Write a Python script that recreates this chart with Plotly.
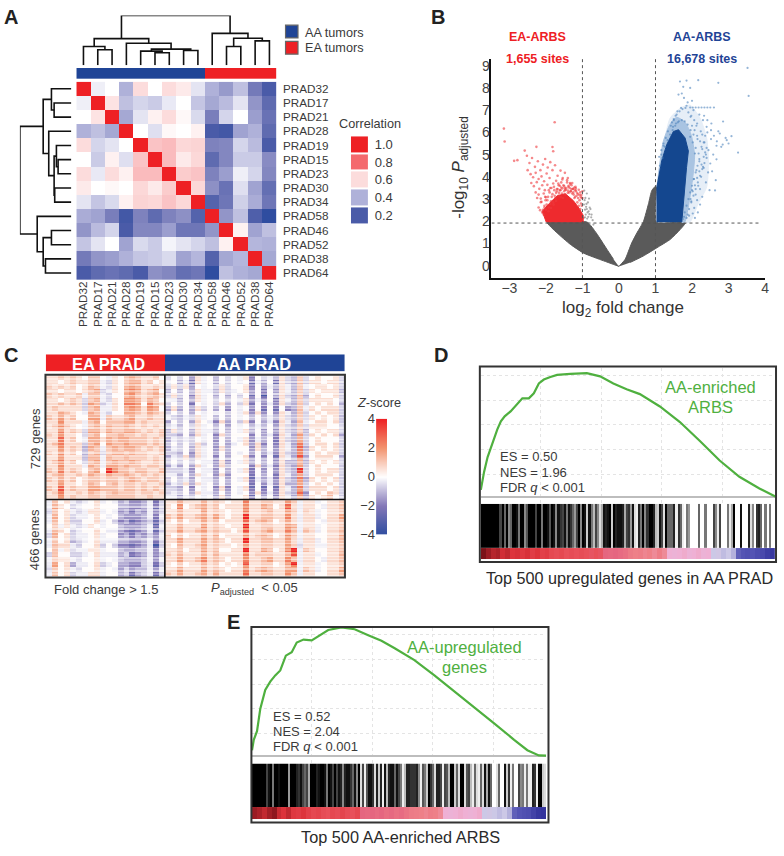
"""Five panel figure: correlation heatmap, volcano, z-score heatmap, two GSEA plots."""
import plotly.graph_objects as go

W, H = 784, 856
FONT = "Liberation Sans, Arial, sans-serif"
TEXT = "#3a3a3a"
RED = "#ee2024"
NAVY = "#1f4496"

# --- panel A
SAMPLES = ["PRAD32", "PRAD17", "PRAD21", "PRAD28", "PRAD19", "PRAD15", "PRAD23",
           "PRAD30", "PRAD34", "PRAD58", "PRAD46", "PRAD52", "PRAD38", "PRAD64"]
CORR = [
    [1.00, .52, .55, .40, .60, .55, .60, .58, .50, .40, .35, .43, .28, .20],
    [.52, 1.00, .59, .43, .47, .45, .51, .55, .44, .38, .42, .50, .34, .24],
    [.55, .59, 1.00, .38, .50, .57, .60, .56, .48, .29, .47, .55, .36, .26],
    [.40, .43, .38, 1.00, .55, .49, .56, .55, .57, .20, .19, .37, .40, .24],
    [.60, .47, .50, .55, 1.00, .66, .68, .61, .62, .30, .31, .47, .42, .20],
    [.55, .45, .57, .49, .66, 1.00, .68, .58, .61, .24, .31, .45, .45, .32],
    [.60, .51, .60, .57, .68, .68, 1.00, .64, .66, .30, .36, .52, .47, .31],
    [.58, .55, .56, .55, .61, .58, .64, 1.00, .61, .33, .26, .49, .37, .25],
    [.50, .44, .48, .57, .62, .61, .66, .61, 1.00, .22, .27, .46, .39, .27],
    [.39, .37, .29, .19, .30, .24, .30, .33, .22, 1.00, .34, .43, .21, .16],
    [.34, .42, .47, .20, .31, .31, .36, .27, .27, .34, 1.00, .57, .37, .43],
    [.44, .50, .55, .37, .48, .45, .53, .50, .47, .43, .57, 1.00, .41, .40],
    [.28, .34, .36, .40, .44, .45, .48, .37, .41, .22, .38, .41, 1.00, .38],
    [.20, .24, .26, .24, .20, .33, .31, .25, .27, .16, .43, .40, .38, 1.00],
]
CORR_STOPS = [(.16, "#2f4da0"), (.2, "#4a5ba8"), (.3, "#7e82bd"), (.4, "#afb1d9"),
              (.5, "#e4e4f2"), (.55, "#ffffff"), (.6, "#fcdcdc"), (.7, "#f9b3b5"),
              (.8, "#f4696d"), (1.0, RED)]
CORR_LEVELS = ["0.2", "0.4", "0.6", "0.8", "1.0"]
GROUP_A = [0, 0, 0, 0, 0, 0, 0, 0, 0, 1, 1, 1, 1, 1]
# merges over leaves 0-13, new nodes are numbered from 14
MERGES = [(1, 2), (0, 14), (5, 6), (4, 16), (7, 8), (17, 18), (3, 19), (15, 20),
          (10, 11), (12, 13), (22, 23), (9, 24), (21, 25)]
TOP_HEIGHTS = [15.7, 19, 12.7, 14.3, 15, 16.3, 22.3, 27, 19, 24.7, 27.3, 32.3, 50.3]
LEFT_HEIGHTS = [17.3, 20, 13.3, 15, 16.7, 17.3, 22.7, 28.3, 20, 26, 28.3, 34.3, 51.7]

# --- panel B, outlines of the dense clouds then single visible dots
GRAY_LEFT_X = [0, -.42, -.96, -1.33, -1.69, -1.97, -.87, -.62, -.33, -.15]
GRAY_LEFT_Y = [-.03, .22, .56, .96, 1.47, 1.96, 1.96, 1.47, .74, .29]
GRAY_RIGHT_X = [0, .17, .35, .49, .67, .81, .9, 1.02, 1.02, 1.83, 1.67, 1.4, 1.04, .67, .31]
GRAY_RIGHT_Y = [-.03, .29, 1.03, 1.47, 1.99, 2.8, 3.39, 3.6, 1.96, 1.96, 1.62, 1.18, .81, .44, .15]
RED_CORE_X = [-1.99, -2.1, -1.91, -1.69, -1.47, -1.25, -1.09, -.98, -.98]
RED_CORE_Y = [1.96, 2.45, 2.8, 3.15, 3.24, 2.93, 2.58, 2.27, 1.96]
BLUE_CORE_X = [1.04, 1.04, 1.17, 1.31, 1.49, 1.63, 1.81, 1.9, 1.85, 1.81, 1.76, 1.72]
BLUE_CORE_Y = [1.96, 3.54, 4.72, 5.46, 6.04, 6.12, 5.75, 5.16, 4.42, 3.54, 2.65, 1.96]
BLUE_MID_X = [1.72, 1.8, 1.93, 2.02, 2.07, 1.98, 1.81, 1.58, 1.4, 1.21, 1.04]
BLUE_MID_Y = [1.96, 1.96, 2.95, 3.95, 4.98, 5.87, 6.46, 6.68, 6.37, 5.57, 3.54]
BLUE_HALO_X = [1.72, 1.94, 2.17, 2.4, 2.45, 2.4, 2.22, 1.94, 1.67, 1.4, 1.26, 1.04]
BLUE_HALO_Y = [1.96, 1.96, 2.8, 3.54, 4.72, 5.75, 6.64, 7.23, 7.08, 6.64, 5.75, 3.54]
RED_X = [-3.15, -3.13, -1.76, -2.26, -1.82, -2.58, -1.80, -2.87, -2.78, -2.52, -2.45, -2.38,
         -2.30, -2.22, -2.15, -2.08, -2.02, -1.95, -1.88, -2.50, -2.42, -2.35, -2.28, -2.20,
         -2.12, -2.05, -1.98, -1.90, -1.82, -1.75, -1.68, -1.60, -1.55, -1.48, -2.40, -2.33,
         -2.25, -2.18, -2.10, -2.03, -1.96, -1.88, -1.80, -1.72, -1.65, -1.58, -1.50, -1.42,
         -1.35, -1.28, -1.20, -2.28, -2.20, -2.14, -2.06, -2.00, -1.92, -1.85, -1.77, -1.70,
         -1.62, -1.55, -1.47, -1.40, -1.32, -1.25, -1.18, -1.12, -1.05, -1.00, -1.38, -1.30,
         -1.22, -1.15, -1.08, -1.02, -2.12, -2.04, -1.40, -1.33, -1.26, -1.19, -1.10, -1.03,
         -2.20, -2.14, -2.08, -2.02, -1.96, -1.90, -1.84, -1.78, -1.72, -1.66,
         -1.60, -1.54, -1.48, -1.42, -1.36, -1.30, -1.24, -1.18, -1.12, -1.06,
         -2.10, -2.04, -1.98, -1.92, -1.86, -1.80, -1.74, -1.68, -1.62, -1.56,
         -1.50, -1.44, -1.38, -1.32, -1.26, -1.20, -1.14, -1.08, -1.02, -2.24,
         -2.16, -2.01, -1.94, -1.88, -1.82, -1.76, -1.70, -1.64, -1.58, -1.52,
         -1.46, -1.40, -1.34, -1.28, -1.22, -1.16, -1.10, -1.04, -1.00, -1.06,
         -2.06, -2.00, -1.93, -1.86, -1.79, -1.72, -1.65, -1.59, -1.53, -1.47]
RED_Y = [6.17, 5.59, 6.46, 5.35, 5.34, 5.18, 5.15, 4.72, 4.75, 4.95, 4.62, 4.85,
         4.45, 4.70, 4.30, 4.55, 4.80, 4.42, 4.66, 4.30, 4.12, 3.98, 4.18, 3.90,
         4.02, 3.80, 4.15, 3.95, 4.30, 4.52, 4.05, 4.28, 3.88, 4.18, 3.72, 3.58,
         3.76, 3.46, 3.62, 3.40, 3.64, 3.50, 3.70, 3.82, 3.62, 3.75, 3.58, 3.85,
         3.50, 3.72, 3.40, 3.30, 3.20, 3.02, 3.25, 3.08, 3.40, 3.50, 3.40, 3.45,
         3.40, 3.48, 3.42, 3.38, 3.36, 3.30, 3.36, 3.22, 3.10, 3.35, 3.60, 3.45,
         3.52, 3.28, 3.18, 3.05, 2.88, 2.70, 3.95, 3.68, 3.46, 3.55, 3.42, 3.18,
         2.62, 2.86, 2.52, 3.10, 2.95, 3.30, 3.10, 3.55, 3.28, 3.70,
         3.40, 3.95, 3.50, 3.75, 3.30, 3.62, 3.20, 3.48, 3.05, 3.30,
         2.40, 2.62, 2.75, 2.62, 2.90, 2.85, 3.05, 3.45, 3.60, 3.25,
         3.35, 3.50, 3.55, 3.35, 3.45, 3.10, 2.85, 2.95, 2.70, 3.05,
         2.50, 2.95, 3.10, 2.78, 3.22, 3.15, 3.35, 3.28, 3.52, 3.62,
         3.42, 3.28, 3.72, 3.25, 3.05, 3.15, 2.70, 2.80, 3.05, 2.55,
         2.30, 2.52, 2.45, 2.60, 2.75, 2.92, 3.15, 3.08, 3.05, 3.20]
BLUE_X = [3.52, 3.55, 2.72, 2.17, 1.85, 1.67, 1.76, 1.95, 1.72, 1.63, 2.00, 1.85, 1.95, 2.02,
          2.10, 2.18, 2.26, 2.34, 2.42, 2.50, 2.60, 3.26, 3.08, 2.72, 2.85, 2.67, 2.53, 2.40,
          2.63, 2.67, 2.20, 2.30, 2.42, 2.52, 2.32, 2.45, 2.58, 2.12, 2.24, 2.36, 2.50, 2.15,
          2.28, 2.40, 2.08, 2.20, 2.32, 2.12, 2.25, 2.05, 2.17, 2.00, 2.10, 1.98, 2.06, 2.80,
          2.95, 1.88, 1.78, 1.70, 1.60, 1.55, 1.50, 1.45, 2.55, 2.65, 2.48, 2.38, 2.28, 2.22,
          2.16, 2.42, 2.33, 1.92, 2.02, 2.08, 2.14, 2.22, 2.30, 1.96, 2.04, 1.10, 1.16, 1.22,
          1.75, 1.80, 1.85, 1.90, 1.95, 2.00, 2.05, 2.10, 2.15, 2.20,
          1.85, 1.92, 1.98, 2.04, 2.10, 2.16, 2.22, 2.28, 2.34, 2.38,
          1.78, 1.88, 1.96, 2.02, 2.08, 2.14, 2.20, 2.26, 2.32, 2.40,
          1.95, 2.02, 2.10, 2.18, 2.26, 2.34, 2.00, 2.07, 2.14, 2.22,
          1.50, 1.58, 1.66, 1.74, 1.82, 1.90, 1.98, 2.06, 2.14, 1.42,
          1.34, 1.28, 1.22, 1.16, 1.48, 1.56, 1.64, 1.72, 1.80, 1.88,
          1.96, 2.04, 1.12, 1.19, 1.26, 1.33, 1.40, 1.47, 1.54, 1.61,
          2.28, 2.36, 2.44, 2.52, 2.60, 2.68, 2.76, 2.84, 2.92, 3.00]
BLUE_Y = [8.90, 7.64, 8.23, 8.35, 8.33, 8.29, 8.05, 8.00, 7.75, 7.70, 7.42, 7.20, 7.12, 7.12,
          7.12, 7.12, 7.12, 7.12, 7.12, 7.12, 7.12, 5.09, 5.83, 6.05, 6.49, 4.79, 6.40, 6.25,
          3.39, 5.40, 6.80, 6.55, 6.00, 5.70, 5.55, 5.20, 5.00, 6.30, 6.05, 5.85, 4.60, 5.70,
          5.25, 4.85, 5.05, 4.70, 4.40, 4.30, 4.00, 3.90, 3.60, 3.40, 3.20, 2.90, 2.60, 5.35,
          5.65, 7.35, 7.55, 7.10, 6.95, 6.75, 6.60, 6.45, 4.25, 3.85, 3.40, 3.75, 3.10, 2.75,
          2.40, 6.55, 6.75, 2.25, 2.35, 2.15, 2.95, 3.45, 4.45, 6.70, 7.00, 4.90, 5.20, 5.50,
          2.10, 2.40, 2.70, 3.00, 3.30, 3.60, 3.90, 4.20, 4.50, 4.80,
          2.15, 2.55, 2.85, 3.15, 3.45, 3.75, 4.05, 4.35, 4.62, 5.00,
          2.20, 2.30, 3.00, 3.35, 3.62, 3.95, 4.25, 4.55, 4.90, 5.30,
          5.80, 5.55, 5.30, 5.05, 5.35, 5.55, 6.30, 6.10, 5.85, 5.60,
          6.55, 6.80, 6.95, 7.05, 7.10, 6.90, 6.75, 6.55, 6.40, 6.30,
          6.05, 5.75, 5.40, 5.00, 6.25, 6.40, 6.50, 6.55, 6.50, 6.35,
          6.10, 5.90, 4.50, 4.85, 5.35, 5.65, 5.90, 6.10, 6.30, 6.45,
          5.90, 5.10, 4.20, 6.10, 5.85, 5.60, 5.95, 5.45, 5.75, 5.50]
GRAY_X = [-.95, -.92, -.88, -.85, -.82, -.90, -.78, -.94, -.86, -.75, -.96, -.93, -.89, -.84, -.80,
          -.91, -.87, -.83, -.97, -.72, -.76, -.70, -.81, -.88, -.93]
GRAY_Y = [3.38, 3.05, 3.25, 2.85, 3.02, 2.65, 2.55, 2.95, 2.40, 2.30, 2.75, 2.52, 2.78, 2.20, 2.62,
          2.30, 2.12, 2.45, 2.15, 2.05, 2.18, 1.85, 2.32, 2.55, 2.18]
X_TICKS = [-3, -2, -1, 0, 1, 2, 3, 4]
Y_TICKS = [0, 1, 2, 3, 4, 5, 6, 7, 8, 9]
LOGFC_CUT = [-1, 1]
PADJ_CUT = 1.92

# --- panel C, one hex digit per cell, 8 is about z = 0
Z_LEVELS = [-3.6, -2.8, -2.2, -1.6, -1.2, -.85, -.5, -.2, .05, .45, .8, 1.15, 1.5, 2, 2.7, 3.5]
TOP_EA = [
    "99A9A98AA8798ABA99A8", "9989A99AA7698ABB9A89", "A9A9A89BA7698BCB99A9", "9989989AB6798BCB9AB8",
    "A9A99A7AA7688BCA9AB9", "9989A96AB7698CCB9BA8", "99A9A96BA6798CCB8CA9", "9A99996AB7798BCB9CB8",
    "99BA987BA7688BBA9BA9", "A9B9A88BB7A99AB99A99", "99C9997AB8AAABB9A999", "9ACA987AB9BAABA9A9A9",
    "99C9A96BB9BAABBA9A9A", "A9C9986AB8AABAA9A99A", "99D9A87BB9BABBAAA9A9", "9AC9996AB8BAABAAA9A9",
    "99C9A95BA7ABABBA9A9A", "A9C9A85AB6ABBABAA99A", "99C9995BB7BAABAAA9A9", "9AC9A86AB7ABAABA99A9",
    "99C9997BA7BBABAA9AA9", "A9C9A98AB8ECAA9AA99A", "9AB99A9BA9BAABA9A9A9", "A9B9A89AA9AA9ABA9AA9",
    "99C9989BA8AB9AA9A99A", "A9D9A99BBAAA9AA9A9A9", "9AD99A9BA9ABAAA9AA9A", "99C9A99AA9AAAAA99A99",
]
TOP_AA = [
    "6868497858687938675965A6898896", "7857397858687837583965A6998996", "6969487869688938475975A7899896",
    "5858597759678948384975A6989995", "6968497858586838285965A5898896", "7758597868687947483975A6999986",
    "6868387869586938474965A6898985", "5958596858487848383845A7989996", "6868587878687949484975A6898996",
    "7657697858587858575965A6989895", "5868598749586948574975A7899896", "6758697858487857584965A6999886",
    "5968597758587958484965A5898996", "6658597849688848574975B6989895", "5767687848587947583965B6898886",
    "6868696858578959484975C6899896", "5768597849588849584975D5989896", "6658497858587858574965C6898996",
    "5769597848588948483975D5899985", "6868687749487958584955B5989896", "5758597859688849574965B6898886",
    "6667487748587938484965E6898996", "7758597849488838583975B6899986", "6867587758587937574965C5989896",
    "5769597858588838474955B6898986", "6658487849487938383975C6999896", "6768597758587849474965D4898A96",
    "7757687859588938584975B5989A86",
]
BOTTOM_EA = [
    "7A8976789787564457366", "7B9867889888554457366", "6A8976799787453547466", "7B8967789878544457376",
    "7A8966889786453456366", "8A7976798788544457276", "7A9867889877543457366", "6B8967789788453546476",
    "7A8956789777554457366", "7A9976889686443457266", "8B7967799788544557376", "6A8866789777563457466",
    "7A9976889787544457376", "7B8957789678554467366", "6A8976889787464557476", "7A8967799788563567366",
]
BOTTOM_AA = [
    "99B999B9A9899D99AA99CA7997899A", "98C89AB9A8999C99BA89D97998799A", "99B999C9A9899D99AB99CA7A97899A",
    "A9B99AB9B9899E99AA99C97997899B", "98A899B9A8999D9ABA89B97998799A", "99B999C9A9899F99AA99CB7997899A",
    "99B99AB9A9989D99AB99CA7A97899A", "A8A899B9B8999C9ABA89CA7998899B", "99B999B9A9899E99AA99B97997899A",
    "98B99AC9A9989C99AA99CA6997799A", "99A899B9A8899F99BA89CF7A98899A", "A9B999B9B9999D9AAA99BE7997899B",
    "99B99AC9A9899C99AB99CA7998799A", "98A899B9A8989E99AA89CF7997899A", "99B999B9A9899C9ABA99BB7A97899B",
    "A9B99AB9B9999D99AA99CA7998899A",
]
# strength of each thin row inside a block, 5 is 1.0
TOP_EA_GAIN = "574657365846735756483756475638576473658465736485746537465846375648574637564738564765"
TOP_AA_GAIN = "465738465746385746573648574635784653746584637485736475863746583746573846573846574836"
BOTTOM_EA_GAIN = "574638475637485746385746357486354768354768463758"
BOTTOM_AA_GAIN = "463758463748573647586374857364758463748563748574"
Z_STOPS = [-4, -3, -2, -1, 0, 1, 2, 3, 4]
Z_TICKS = [-4, -2, 0, 2, 4]
Z_COLORS = [(0, "#2f4ea0"), (.25, "#8478b8"), (.5, "#ffffff"), (.75, "#f2936e"), (1, RED)]
GROUP_C = [1] * 20 + [0] * 30

# --- panels D and E, rank in percent
D_RANK = [0, 1.1, 2.3, 4, 5.6, 6.8, 8.1, 10.1, 12.4, 14.1, 16.3, 18, 19.7, 21.4, 23.6, 25.9,
          30.4, 36, 40.5, 45, 49.5, 54, 60.8, 67.6, 74.3, 81.1, 87.8, 94.6, 100]
D_ES = [.027, .10, .16, .219, .272, .305, .325, .345, .378, .398, .398, .418, .458, .474, .484, .493,
        .497, .50, .487, .458, .435, .415, .365, .302, .226, .146, .08, .033, 0]
E_RANK = [0, .6, 1.7, 2.8, 4.5, 6.2, 7.9, 9.6, 11.5, 13.5, 15.2, 17.5, 20.3, 23.1, 25.9, 30.4,
          34.9, 39.5, 44, 48.5, 55.2, 62, 68.8, 75.6, 82.3, 89.1, 93.6, 97.5, 100]
E_ES = [.022, .064, .099, .189, .266, .30, .325, .345, .405, .419, .458, .47, .467, .488, .509, .519,
        .512, .488, .465, .435, .387, .325, .261, .196, .131, .064, .022, .001, 0]
# hit density along the rank, one hex digit per small bin
D_HITS = ("FFFFFFFFFBF9F79FFE8FF7AFFFBFF8FFEAFE7ECBE8EC96BF7" "FE3E84B72 5EDEF3FDE"
          "ED5BC6E21D8F7CFFD43EB2F999D1C9108600009008000B71B000815F00E000D270CD9080800")
E_HITS = ("FFFFFFFBEF8FFEFFFF6FFFDCEB9B5FFFDEFFE8FEBFBED7DEEC9E7F2B1AEEC2D3D1E4DEE9E"
          "B81 4DDCCCD71A83FC92DDB1BA4FF392FF2AB4192192E5E9002900E3C1800B78181 1DC1FF32")
RIBBON_COLORS = [(0, "#30309a"), (.1, "#5454b4"), (.2, "#ccc8e6"), (.3, "#efb0d4"), (.4, "#ee8088"),
                 (.5, "#e56680"), (.6, "#e8505a"), (.75, "#dc323a"), (1, "#7b1218")]
D_RIBBON = [1, .92, .85, .88, .78, .82, .74, .76, .72, .76, .7, .74, .68, .7, .64, .62, .64, .6, .62, .6,
            .62, .6, .58, .6, .58, .5, .49, .5, .48, .46, .42, .4, .41, .39, .4, .38, .41, .38, .3, .29,
            .3, .31, .29, .3, .31, .29, .3, .2, .21, .19, .2, .18, .11, .1, .09, .1, .08, .07, .04, .02]
E_RIBBON = [.92, .88, .82, .9, .95, .8, .75, .82, .72, .7, .74, .68, .64, .66, .62, .6, .64, .62, .66, .62,
            .6, .64, .5, .49, .5, .48, .5, .47, .49, .46, .48, .45, .42, .41, .4, .39, .41, .4, .38, .3,
            .29, .3, .31, .3, .29, .3, .31, .2, .21, .2, .19, .2, .18, .11, .1, .09, .08, .05, .02, .01]

fig = go.Figure()
axis_count = 0


def place(x0, x1, y0, y1, xaxis=None, yaxis=None):
    """Adds an axis pair at a pixel box and returns the trace references."""
    global axis_count
    axis_count += 1
    n = "" if axis_count == 1 else str(axis_count)
    off = dict(visible=False, fixedrange=True)
    fig.update_layout(**{
        f"xaxis{n}": {**off, **(xaxis or {}), "domain": [x0 / W, x1 / W], "anchor": f"y{n}"},
        f"yaxis{n}": {**off, **(yaxis or {}), "domain": [1 - y1 / H, 1 - y0 / H], "anchor": f"x{n}"},
    })
    return dict(xaxis=f"x{n}", yaxis=f"y{n}")


annotations = []
shapes = []


def label(text, x, y, size=12.7, color=TEXT, anchor="center", angle=0, bold=False, **kw):
    if bold:
        text = f"<b>{text}</b>"
    annotations.append(dict(text=text, x=x / W, y=1 - y / H, xref="paper", yref="paper",
                            showarrow=False, xanchor=anchor, yanchor="middle", textangle=angle,
                            font=dict(family=FONT, size=size, color=color), **kw))


def frame(x0, x1, y0, y1, color="#333333", width=2, fill=None):
    shapes.append(dict(type="rect", xref="paper", yref="paper", x0=x0 / W, x1=x1 / W,
                       y0=1 - y0 / H, y1=1 - y1 / H, line=dict(color=color, width=width),
                       fillcolor=fill, layer="above"))


def rule(x0, x1, y0, y1, color="#111111", width=1.6):
    shapes.append(dict(type="line", xref="paper", yref="paper", x0=x0 / W, x1=x1 / W,
                       y0=1 - y0 / H, y1=1 - y1 / H, line=dict(color=color, width=width),
                       layer="above"))


def dendrogram(heights, vertical):
    """Elbow path for the merge tree, drawn along the data axes."""
    pos = {i: i + .5 for i in range(len(SAMPLES))}
    hgt = {i: 0 for i in range(len(SAMPLES))}
    a, b = [], []
    for k, ((l, r), h) in enumerate(zip(MERGES, heights)):
        a += [pos[l], pos[l], pos[r], pos[r], None]
        b += [hgt[l], h, h, hgt[r], None]
        node = len(SAMPLES) + k
        pos[node] = (pos[l] + pos[r]) / 2
        hgt[node] = h
    return (a, b) if vertical else (b, a)


# ---------- A
lo = CORR_STOPS[0][0]
corr_scale = [[(v - lo) / (1 - lo), c] for v, c in CORR_STOPS]
clear_tick = dict(ticks="outside", tickcolor="rgba(0,0,0,0)", showline=False)
refs = place(76.7, 278, 76, 278,
             dict(visible=True, tickangle=-90, ticks="", showline=False, side="bottom", ticklabelstandoff=-2,
                  tickfont=dict(family=FONT, size=11.7, color=TEXT)),
             dict(clear_tick, visible=True, autorange="reversed", side="right", ticklen=3,
                  tickfont=dict(family=FONT, size=11.7, color=TEXT)))
fig.add_trace(go.Heatmap(z=CORR, x=SAMPLES, y=SAMPLES, colorscale=corr_scale, zmin=lo, zmax=1,
                         showscale=False, **refs))
refs = place(76.7, 278, 62, 73, yaxis=dict(range=[-.5, .5]), xaxis=dict(range=[-.5, 13.5]))
fig.add_trace(go.Heatmap(z=[GROUP_A], colorscale=[[0, NAVY], [1, RED]], showscale=False, **refs))
refs = place(76.7, 278, 8.7, 59.3, dict(range=[0, 14]), dict(range=[0, 50.3]))
dx, dy = dendrogram(TOP_HEIGHTS, True)
fig.add_trace(go.Scatter(x=dx, y=dy, mode="lines", line=dict(color="#111111", width=1.6), **refs))
refs = place(20, 71.7, 76, 278, dict(range=[51.7, 0]), dict(range=[14, 0]))
dx, dy = dendrogram(LEFT_HEIGHTS, False)
fig.add_trace(go.Scatter(x=dx, y=dy, mode="lines", line=dict(color="#111111", width=1.6), **refs))
refs = place(352.7, 370, 130.7, 221, dict(range=[-.5, .5]),
             dict(clear_tick, visible=True, side="right", ticklen=3, type="category",
                  tickfont=dict(family=FONT, size=13, color=TEXT)))
fig.add_trace(go.Heatmap(z=[[float(v)] for v in CORR_LEVELS], y=CORR_LEVELS, colorscale=corr_scale,
                         zmin=lo, zmax=1, ygap=2, showscale=False, **refs))
label("Correlation", 372, 119)
frame(287, 299.5, 18.5, 31.5, color="#666666", width=1.2, fill=NAVY)
frame(287, 299.5, 35, 48, color="#666666", width=1.2, fill=RED)
label("AA tumors", 305, 26, anchor="left")
label("EA tumors", 305, 42, anchor="left")

# ---------- B
volcano_axis = dict(visible=True, showline=True, linecolor="#111111", linewidth=1.6, showgrid=False,
                    zeroline=False, ticks="", tickfont=dict(family=FONT, size=14, color="#444444"))
refs = place(494, 769, 53, 276,
             dict(volcano_axis, range=[-3.49, 4.0], tickvals=X_TICKS, ticklabelstandoff=-4),
             dict(volcano_axis, range=[-.56, 9.3], tickvals=Y_TICKS, ticklabelstandoff=-3))
for xs, ys in [(GRAY_LEFT_X, GRAY_LEFT_Y), (GRAY_RIGHT_X, GRAY_RIGHT_Y)]:
    fig.add_trace(go.Scatter(x=xs, y=ys, mode="lines", fill="toself", fillcolor="#5a5a5a",
                             line=dict(color="#5a5a5a", width=1, shape="spline", smoothing=.5), **refs))
fig.add_trace(go.Scatter(x=GRAY_X, y=GRAY_Y, mode="markers",
                         marker=dict(color="#777777", size=2.2, opacity=.6), **refs))
fig.add_trace(go.Scatter(x=RED_CORE_X, y=RED_CORE_Y, mode="lines", fill="toself", fillcolor="#ee2a2e",
                         line=dict(color="#ee2a2e", width=1), **refs))
fig.add_trace(go.Scatter(x=RED_X, y=RED_Y, mode="markers",
                         marker=dict(color="#ee3a3e", size=2.6, opacity=.6), **refs))
fig.add_trace(go.Scatter(x=BLUE_HALO_X, y=BLUE_HALO_Y, mode="lines", fill="toself", fillcolor="#e6eef7",
                         line=dict(color="#e6eef7", width=1, shape="spline", smoothing=.6), **refs))
fig.add_trace(go.Scatter(x=BLUE_MID_X, y=BLUE_MID_Y, mode="lines", fill="toself", fillcolor="#a9c4e2",
                         line=dict(color="#a9c4e2", width=1, shape="spline", smoothing=.6), **refs))
fig.add_trace(go.Scatter(x=BLUE_CORE_X, y=BLUE_CORE_Y, mode="lines", fill="toself", fillcolor="#14478f",
                         line=dict(color="#14478f", width=1), **refs))
fig.add_trace(go.Scatter(x=BLUE_X, y=BLUE_Y, mode="markers",
                         marker=dict(color="#4f84bd", size=2.2, opacity=.6), **refs))
for cut in LOGFC_CUT:
    shapes.append(dict(type="line", xref=refs["xaxis"], yref=refs["yaxis"], x0=cut, x1=cut, y0=-.56, y1=9.3,
                       line=dict(color="#555555", width=1, dash="dot"), layer="above"))
shapes.append(dict(type="line", xref=refs["xaxis"], yref=refs["yaxis"], x0=-3.49, x1=3.9, y0=PADJ_CUT, y1=PADJ_CUT,
                   line=dict(color="#555555", width=1, dash="dot"), layer="above"))
label("EA-ARBS", 540, 31, size=12.5, color=RED, bold=True)
label("1,655 sites", 540, 53, size=12.5, color=RED, bold=True)
label("AA-ARBS", 706, 31, size=12.5, color=NAVY, bold=True)
label("16,678 sites", 706, 53, size=12.5, color=NAVY, bold=True)
label("log<sub>2</sub> fold change", 626, 307, size=17, color="#333333")
label("-log<sub>10</sub> <i>P</i><sub>adjusted</sub>", 463, 163, size=17, color="#333333", angle=-90)

# ---------- C
heat_scale = [[p, c] for p, c in Z_COLORS]


def decode(rows, gains, width):
    """Coarse rows of hex digits, each shown as three thin rows with their own strength."""
    out = []
    for i, g in enumerate(gains):
        row = rows[min(i // 3, len(rows) - 1)].ljust(width, "8")[:width]
        out.append([Z_LEVELS[int(ch, 16)] * int(g) / 5 for ch in row])
    return out


def block(ea_rows, aa_rows, ea_gain, aa_gain):
    ea = decode(ea_rows, ea_gain, 20)
    aa = decode(aa_rows, aa_gain, 30)
    return [a + b for a, b in zip(ea, aa)]


refs = place(46, 346.5, 353.5, 371, dict(range=[-.5, 49.5]), dict(range=[-.5, .5]))
fig.add_trace(go.Heatmap(z=[GROUP_C], colorscale=[[0, NAVY], [1, RED]], showscale=False, **refs))
refs = place(46, 346.5, 375, 501.3, dict(range=[-.5, 49.5]), dict(autorange="reversed"))
fig.add_trace(go.Heatmap(z=block(TOP_EA, TOP_AA, TOP_EA_GAIN, TOP_AA_GAIN), colorscale=heat_scale,
                         zmin=-4, zmax=4, showscale=False, **refs))
refs = place(46, 346.5, 501.3, 580, dict(range=[-.5, 49.5]), dict(autorange="reversed"))
fig.add_trace(go.Heatmap(z=block(BOTTOM_EA, BOTTOM_AA, BOTTOM_EA_GAIN, BOTTOM_AA_GAIN), colorscale=heat_scale,
                         zmin=-4, zmax=4, showscale=False, **refs))
refs = place(378, 389, 419, 537, dict(range=[-.5, .5]),
             dict(visible=True, range=[-4, 4], tickvals=Z_TICKS, side="left", ticks="", showline=False,
                  showgrid=False, zeroline=False, tickfont=dict(family=FONT, size=13, color=TEXT)))
fig.add_trace(go.Heatmap(z=[[v] for v in Z_STOPS], y=Z_STOPS, colorscale=heat_scale, zmin=-4, zmax=4,
                         zsmooth="best", showscale=False, **refs))
frame(45.7, 346.7, 374.3, 580.7)
rule(45.7, 346.7, 501.3, 501.3)
rule(165.7, 165.7, 374.3, 580.7)
label("EA PRAD", 109, 363, size=16.4, color="#ffffff", bold=True)
label("AA PRAD", 255, 363, size=16.4, color="#ffffff", bold=True)
label("729 genes", 35, 439, size=13, angle=-90)
label("466 genes", 35, 542, size=13, angle=-90)
label("Fold change &gt; 1.5", 107, 593, size=13)
label("<i>P</i><sub>adjusted</sub>  &lt; 0.05", 256, 592, size=13)
label("<i>Z</i>-score", 381, 403, size=12.7)


# ---------- D and E
def gsea(left, right, top, zero, bar_top, ribbon_top, bottom, rank, es, hits, ribbon, tickvals, rankvals):
    px_per_es = 251.3
    plot_bottom = bar_top - 1
    grid = dict(visible=True, showticklabels=False, ticks="", showline=False, zeroline=False,
                gridcolor="#e4e4e4", griddash="dot", gridwidth=1)
    refs = place(left, right, top, plot_bottom,
                 dict(grid, range=[0, 100], tickvals=rankvals),
                 dict(grid, range=[(zero - plot_bottom) / px_per_es, (zero - top) / px_per_es], tickvals=tickvals,
                      zeroline=True, zerolinecolor="#bdbdbd", zerolinewidth=1.5))
    fig.add_trace(go.Scatter(x=rank, y=es, mode="lines", line=dict(color="#4fb03f", width=2.2), **refs))
    density = [int(ch, 16) for ch in hits.replace(" ", "")]
    refs = place(left, right, bar_top, ribbon_top, dict(range=[-.5, len(density) - .5]), dict(range=[-.5, .5]))
    fig.add_trace(go.Heatmap(z=[density], colorscale=[[0, "#ffffff"], [1, "#000000"]], zmin=0, zmax=15,
                             showscale=False, **refs))
    refs = place(left, right, ribbon_top, bottom, dict(range=[-.5, len(ribbon) - .5]), dict(range=[-.5, .5]))
    fig.add_trace(go.Heatmap(z=[ribbon], colorscale=[[p, c] for p, c in RIBBON_COLORS], zmin=0, zmax=1,
                             showscale=False, **refs))


gsea(483.3, 779.3, 367, 498.3, 505.7, 550.7, 562.3, D_RANK, D_ES, D_HITS, D_RIBBON,
     [.09, .19, .29, .39, .49], [20.3, 41.1, 61.4, 82.2])
frame(482.3, 780, 366, 565)
label("AA-enriched", 714, 387, size=16.5, color="#4fb03f")
label("ARBS", 714, 407, size=16.5, color="#4fb03f")
label("ES = 0.50", 501, 457.3, size=13, anchor="left")
label("NES = 1.96", 501, 473.3, size=13, anchor="left")
label("FDR <i>q</i> &lt; 0.001", 501, 489, size=13, anchor="left")
label("Top 500 upregulated genes in AA PRAD", 633, 581, size=16.2, color="#2a2a2a")

gsea(253.3, 549, 632, 762, 770, 814.3, 826.7, E_RANK, E_ES, E_HITS, E_RIBBON,
     [.09, .19, .29, .39, .49], [20.3, 41.1, 61.4, 82.2])
frame(252.7, 551.3, 631, 830)
label("AA-upregulated", 467.3, 651.3, size=16.5, color="#4fb03f")
label("genes", 467.3, 672, size=16.5, color="#4fb03f")
label("ES = 0.52", 272.3, 721.7, size=13, anchor="left")
label("NES = 2.04", 272.3, 737, size=13, anchor="left")
label("FDR <i>q</i> &lt; 0.001", 272.3, 752.7, size=13, anchor="left")
label("Top 500 AA-enriched ARBS", 402.7, 845, size=16.3, color="#2a2a2a")

for letter, x, y in [("A", 2, 10), ("B", 431, 10), ("C", 2, 354), ("D", 434, 354), ("E", 226, 626)]:
    label(letter, x, y, size=20, color="#222222", anchor="left", bold=True, height=18)

fig.update_layout(width=W, height=H, margin=dict(l=0, r=0, t=0, b=0), showlegend=False,
                  paper_bgcolor="#ffffff", plot_bgcolor="rgba(0,0,0,0)",
                  annotations=annotations, shapes=shapes, font=dict(family=FONT, color=TEXT))
fig.write_html("out.html", config={"displayModeBar": False}, post_script="document.body.style.margin='0';")
